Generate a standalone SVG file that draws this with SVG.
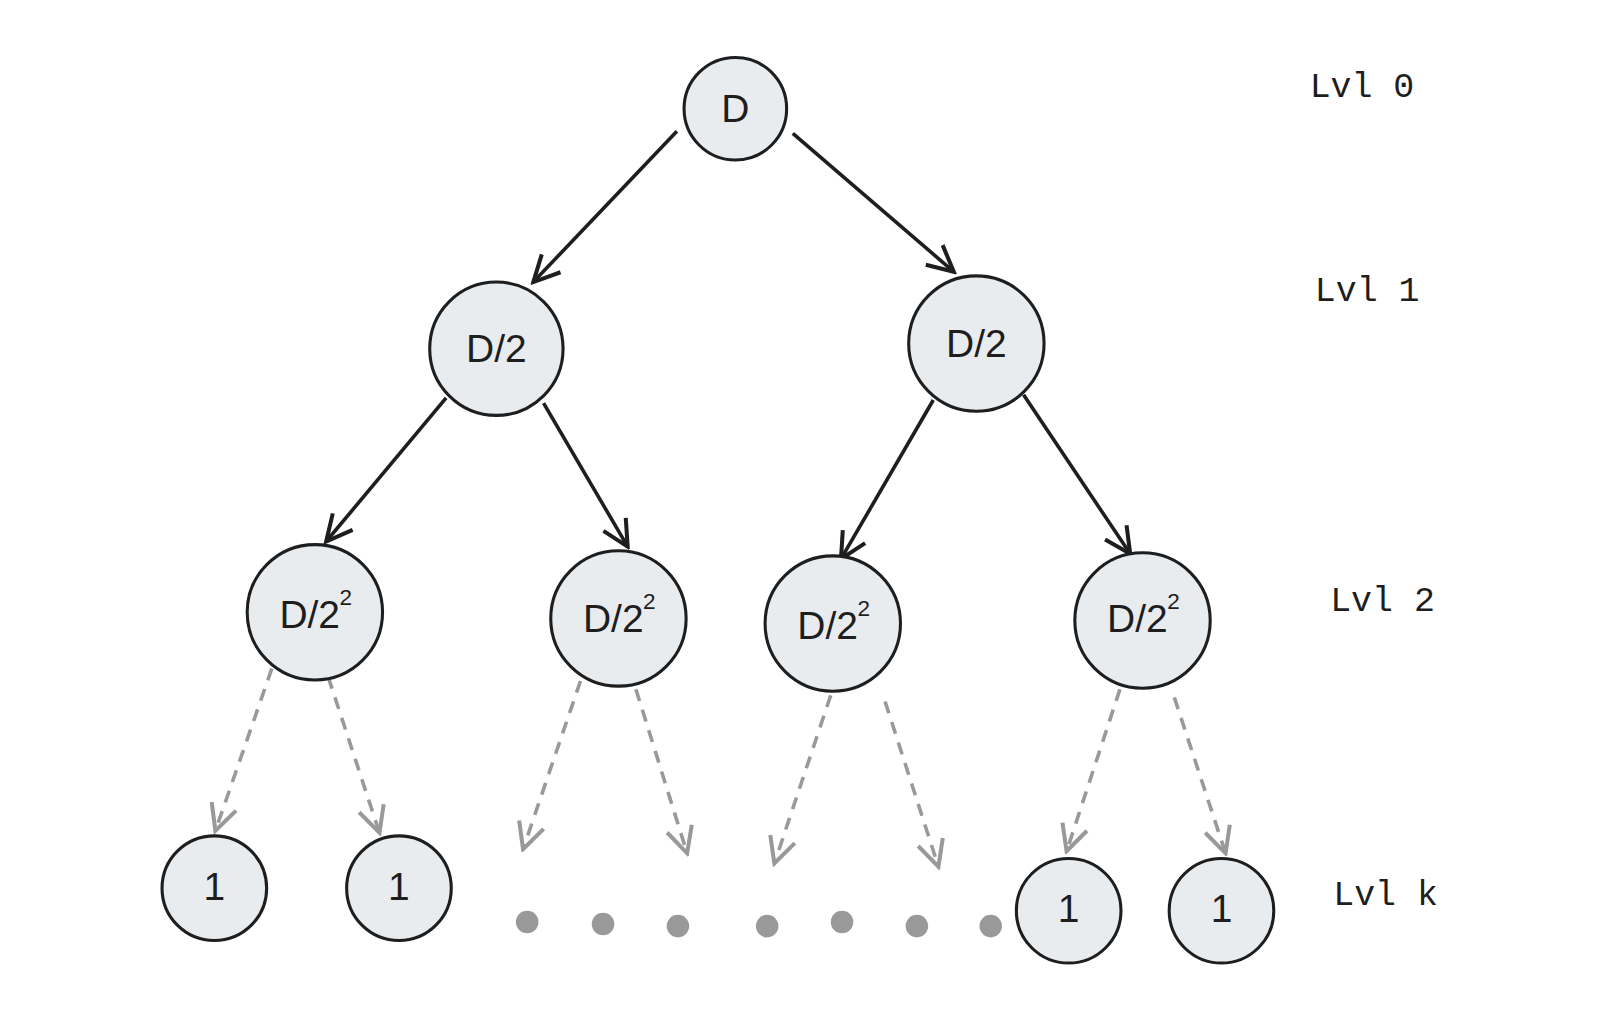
<svg xmlns="http://www.w3.org/2000/svg" width="1600" height="1023" viewBox="0 0 1600 1023">
<style>
.n{fill:#e9ecef;stroke:#1e1e1e;stroke-width:3}
.t{font-family:"Liberation Sans",sans-serif;font-size:38px;fill:#1e1e1e;text-anchor:middle;dominant-baseline:central}
.s{font-family:"Liberation Sans",sans-serif;font-size:22px;fill:#1e1e1e}
.l{font-family:"Liberation Mono",monospace;font-size:34px;fill:#1e1e1e}
.a{stroke:#1e1e1e;stroke-width:3.5;fill:none;marker-end:url(#ab)}
.d{stroke:#999;stroke-width:3.5;fill:none;stroke-dasharray:12 9;marker-end:url(#ag)}
.dot{fill:#999}
</style>
<defs>
<marker id="ab" viewBox="0 0 20 20" refX="18" refY="10" markerWidth="9" markerHeight="9" markerUnits="strokeWidth" orient="auto"><path d="M2 2 L18 10 L2 18" fill="none" stroke="#1e1e1e" stroke-width="2.5"/></marker>
<marker id="ag" viewBox="0 0 20 20" refX="18" refY="10" markerWidth="9" markerHeight="9" markerUnits="strokeWidth" orient="auto"><path d="M2 2 L18 10 L2 18" fill="none" stroke="#999" stroke-width="2.5"/></marker>
</defs>
<g transform="scale(1.0256)">
<g id="connectors">
<path class="a" d="M660 128 L520 275"/>
<path class="a" d="M773 130 L930 265"/>
<path class="a" d="M435 388 L318 528"/>
<path class="a" d="M530 393 L612 533"/>
<path class="a" d="M910 390 L820 545"/>
<path class="a" d="M998 385 L1102 540"/>
<path class="d" d="M265 652 L210 810"/>
<path class="d" d="M320 660 L370 812"/>
<path class="d" d="M566 664 L510 828"/>
<path class="d" d="M620 672 L670 832"/>
<path class="d" d="M810 678 L755 842"/>
<path class="d" d="M863 684 L915 845"/>
<path class="d" d="M1092 672 L1040 830"/>
<path class="d" d="M1145 680 L1195 832"/>
</g>
<g id="n0"><circle class="n" cx="717" cy="106" r="50"/><text class="t" x="717" y="106">D</text></g>
<g id="n1"><circle class="n" cx="484" cy="340" r="65"/><text class="t" x="484" y="340">D/2</text></g>
<g id="n2"><circle class="n" cx="952" cy="335" r="66"/><text class="t" x="952" y="335">D/2</text></g>
<g id="n3"><circle class="n" cx="307" cy="597" r="66"/><text class="t" x="302" y="599">D/2</text><text class="s" x="331" y="590">2</text></g>
<g id="n4"><circle class="n" cx="603" cy="603" r="66"/><text class="t" x="598" y="603">D/2</text><text class="s" x="627" y="594">2</text></g>
<g id="n5"><circle class="n" cx="812" cy="608" r="66"/><text class="t" x="807" y="610">D/2</text><text class="s" x="836" y="601">2</text></g>
<g id="n6"><circle class="n" cx="1114" cy="605" r="66"/><text class="t" x="1109" y="603">D/2</text><text class="s" x="1138" y="594">2</text></g>
<g id="n7"><circle class="n" cx="209" cy="866" r="51"/><text class="t" x="209" y="864">1</text></g>
<g id="n8"><circle class="n" cx="389" cy="866" r="51"/><text class="t" x="389" y="864">1</text></g>
<g id="n9"><circle class="n" cx="1042" cy="888" r="51"/><text class="t" x="1042" y="886">1</text></g>
<g id="n10"><circle class="n" cx="1191" cy="888" r="51"/><text class="t" x="1191" y="886">1</text></g>
<g id="dots">
<circle class="dot" cx="514" cy="899" r="11"/><circle class="dot" cx="588" cy="901" r="11"/><circle class="dot" cx="661" cy="903" r="11"/><circle class="dot" cx="748" cy="903" r="11"/><circle class="dot" cx="821" cy="899" r="11"/><circle class="dot" cx="894" cy="903" r="11"/><circle class="dot" cx="966" cy="903" r="11"/>
</g>
<g id="labels">
<text class="l" x="1277" y="95">Lvl 0</text>
<text class="l" x="1282" y="293">Lvl 1</text>
<text class="l" x="1297" y="596">Lvl 2</text>
<text class="l" x="1300" y="882">Lvl k</text>
</g>
</g>
</svg>
